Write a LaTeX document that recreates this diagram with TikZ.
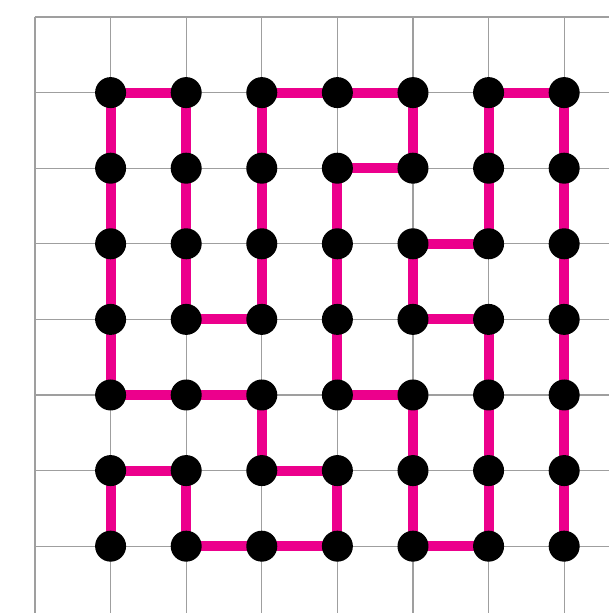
\documentclass[tikz,border=0pt]{standalone}
\usepackage{tikz}
\usetikzlibrary{backgrounds}
\definecolor{mazepink}{HTML}{EC008C}

\begin{document}
\begin{tikzpicture}[
  gridline/.style={line width=0.4pt, gray!75},
  dot/.style={circle, fill=black, inner sep=0pt, minimum size=0.41cm},
  mazepath/.style={line width=0.132cm, mazepink}
]
\useasboundingbox (-0.463,-7.884) rectangle (7.593,0.225);

% dots, d-column-row
\foreach \c in {1,...,7} {
  \foreach \r in {1,...,7} {
    \node[dot] (d-\c-\r) at (\c,-\r) {};
  }
}

\begin{scope}[on background layer]
% grid
\foreach \i in {0,...,7} {
  \draw[gridline] (\i,0) -- (\i,-7.884);
  \draw[gridline] (0,-\i) -- (7.593,-\i);
}

% maze paths
\draw[mazepath] (d-1-1.center) -- (d-2-1.center);
\draw[mazepath] (d-3-1.center) -- (d-4-1.center) -- (d-5-1.center);
\draw[mazepath] (d-6-1.center) -- (d-7-1.center);
\draw[mazepath] (d-1-1.center) -- (d-1-5.center);
\draw[mazepath] (d-2-1.center) -- (d-2-4.center) -- (d-3-4.center);
\draw[mazepath] (d-3-1.center) -- (d-3-4.center);
\draw[mazepath] (d-5-1.center) -- (d-5-2.center) -- (d-4-2.center) -- (d-4-5.center) -- (d-5-5.center) -- (d-5-7.center) -- (d-6-7.center) -- (d-6-4.center) -- (d-5-4.center) -- (d-5-3.center) -- (d-6-3.center) -- (d-6-1.center);
\draw[mazepath] (d-7-1.center) -- (d-7-7.center);
\draw[mazepath] (d-1-5.center) -- (d-3-5.center) -- (d-3-6.center) -- (d-4-6.center) -- (d-4-7.center) -- (d-2-7.center) -- (d-2-6.center) -- (d-1-6.center) -- (d-1-7.center);
\end{scope}

\end{tikzpicture}
\end{document}
